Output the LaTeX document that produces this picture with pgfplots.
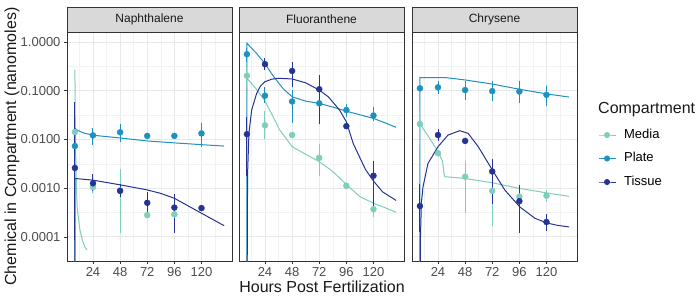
\documentclass[border=0pt]{standalone}
\usepackage{pgfplots}
\usepackage{pgfplotstable}
\pgfplotsset{compat=1.18}
\usepackage{fontspec}
\setmainfont{Liberation Sans}
\definecolor{cMedia}{HTML}{7FCDBB}
\definecolor{cPlate}{HTML}{1D91C0}
\definecolor{cTissue}{HTML}{253494}
\pgfplotsset{
 every axis/.append style={scale only axis, width=165pt, height=229pt, ymode=log, ymin=3.2e-5, ymax=1.6, xmin=1, xmax=147,
  xtick={24,48,72,96,120}, minor xtick={12,36,60,84,108,132},
  ytick={1e-4,0.001,0.01,0.1,1}, minor ytick={3.1623e-5,3.1623e-4,3.1623e-3,3.1623e-2,0.31623},
  grid=both, major grid style={draw=black!9, line width=0.8pt}, minor grid style={draw=black!5, line width=0.4pt},
  tick pos=left, tick align=outside, major tick length=3pt, minor tick length=0pt,
  tick style={draw=black!80, line width=0.6pt},
  axis line style={draw=black!80, line width=0.7pt},
  ticklabel style={font=\fontsize{13}{13}\selectfont, text=black!70},
  /pgf/number format/assume math mode=true,
 },
 mypts/.style={only marks, mark=*, mark size=3pt, color=#1,
   error bars/y dir=both, error bars/y explicit, error bars/error mark=-,
   error bars/error mark options={line width=1pt, mark size=3pt, color=#1},
   error bars/error bar style={line width=1pt, color=#1}},
 mycrv/.style={no marks, line width=1pt, color=#1},
}
\begin{document}
\begin{tikzpicture}
\useasboundingbox (-67pt,-39pt) rectangle (633pt,261pt);
% ---------------- Naphthalene
\begin{axis}[name=ax1, at={(0pt,0pt)}, anchor=south west,
  yticklabels={0.0001,0.0010,0.0100,0.1000,1.0000}]
\addplot[mycrv=cMedia] coordinates {(8,0.27) (8.3,0.03) (8.7,0.005) (9.2,0.0015) (10,0.0004) (12.4,0.00014) (15,0.00008) (16.9,0.000062) (18.7,0.000054)};
\addplot[mycrv=cPlate] coordinates {(8,1e-6) (8.05,0.017) (10,0.0155) (16,0.0135) (24,0.0122) (48,0.0107) (72,0.0093) (96,0.0085) (120,0.0078) (140,0.0073)};
\addplot[mycrv=cTissue] coordinates {(8,1e-6) (8.05,0.00158) (24,0.00146) (48,0.00117) (72,0.00092) (84,0.00078) (96,0.00062) (108,0.000435) (120,0.000306) (130,0.000228) (140,0.00017)};
\addplot[mypts=cMedia] table[x=x, y=y, y error plus expr=\thisrow{hi}-\thisrow{y}, y error minus expr=\thisrow{y}-\thisrow{lo}] {
x y lo hi
8 0.0142 0.0142 0.0142
24 0.00105 0.00091 0.0017
48 0.0009 0.00014 0.0021
72 0.00028 0.00028 0.00028
96 0.00029 0.00029 0.00029
};
\addplot[mypts=cPlate] table[x=x, y=y, y error plus expr=\thisrow{hi}-\thisrow{y}, y error minus expr=\thisrow{y}-\thisrow{lo}] {
x y lo hi
8 0.0073 0.0026 0.03
24 0.0121 0.0090 0.0151
48 0.0140 0.0101 0.0181
72 0.0118 0.0118 0.0118
96 0.0118 0.0118 0.0118
120 0.0133 0.0081 0.0187
};
\addplot[mypts=cTissue] table[x=x, y=y, y error plus expr=\thisrow{hi}-\thisrow{y}, y error minus expr=\thisrow{y}-\thisrow{lo}] {
x y lo hi
8 0.0026 0.0001 0.05
24 0.00126 0.00099 0.00167
48 0.00088 0.00075 0.00105
72 0.00050 0.00031 0.00072
96 0.00040 0.00014 0.00066
120 0.00039 0.00039 0.00039
};
\end{axis}
% ---------------- Fluoranthene
\begin{axis}[name=ax2, at={(172pt,0pt)}, anchor=south west, yticklabels={}, ytick style={draw=none}]
\addplot[mycrv=cMedia] coordinates {(8,0.18) (16,0.11) (24,0.062) (30,0.033) (37,0.0156) (42,0.011) (48,0.0071) (61,0.0048) (72,0.0035) (84,0.0022) (96,0.00119) (108,0.00067) (120,0.00049) (130,0.0004) (140,0.00032)};
\addplot[mycrv=cPlate] coordinates {(8,1e-6) (8.05,0.94) (16,0.6) (24,0.36) (30,0.22) (34,0.166) (40,0.11) (48,0.075) (60,0.061) (72,0.055) (84,0.046) (96,0.038) (108,0.032) (120,0.027) (130,0.022) (140,0.0177)};
\addplot[mycrv=cTissue] coordinates {(8,1e-6) (8.6,0.002) (9.8,0.0135) (12.2,0.04) (16.6,0.088) (20,0.125) (24,0.153) (30,0.172) (36,0.18) (48,0.174) (60,0.145) (72,0.103) (80,0.075) (90,0.040) (96,0.023) (102,0.0083) (108,0.0042) (113,0.0024) (120,0.0014) (128,0.00084) (140,0.00056)};
\addplot[mypts=cMedia] table[x=x, y=y, y error plus expr=\thisrow{hi}-\thisrow{y}, y error minus expr=\thisrow{y}-\thisrow{lo}] {
x y lo hi
8 0.203 0.14 0.26
24 0.0195 0.0115 0.033
48 0.0123 0.0123 0.0123
72 0.0042 0.0020 0.0069
96 0.00112 0.00112 0.00112
120 0.00037 0.00030 0.00049
};
\addplot[mypts=cPlate] table[x=x, y=y, y error plus expr=\thisrow{hi}-\thisrow{y}, y error minus expr=\thisrow{y}-\thisrow{lo}] {
x y lo hi
8 0.56 0.45 0.65
24 0.079 0.064 0.103
48 0.060 0.025 0.088
72 0.055 0.034 0.075
96 0.040 0.034 0.047
120 0.031 0.027 0.040
};
\addplot[mypts=cTissue] table[x=x, y=y, y error plus expr=\thisrow{hi}-\thisrow{y}, y error minus expr=\thisrow{y}-\thisrow{lo}] {
x y lo hi
8 0.0128 0.0020 0.025
24 0.35 0.30 0.40
48 0.254 0.134 0.33
72 0.107 0.0243 0.178
96 0.0187 0.0187 0.0187
120 0.0018 0.00048 0.0031
};
\end{axis}
% ---------------- Chrysene
\begin{axis}[name=ax3, at={(345pt,0pt)}, anchor=south west, yticklabels={}, ytick style={draw=none},
  legend style={at={(1,1)}, anchor=north west, xshift=21pt, yshift=-94.75pt, draw=none, fill=none,
    inner sep=0pt, outer sep=0pt, row sep=7pt, column sep=6pt,
    font=\fontsize{13}{13}\selectfont,
    nodes={inner sep=2pt, text height=9.5pt, text depth=3pt}},
  legend cell align=left]
\addlegendimage{color=cMedia, line width=1pt, mark=*, mark size=2.5pt}
\addlegendentry{Media}
\addlegendimage{color=cPlate, line width=1pt, mark=*, mark size=2.5pt}
\addlegendentry{Plate}
\addlegendimage{color=cTissue, line width=1pt, mark=*, mark size=2.5pt}
\addlegendentry{Tissue}
\addplot[mycrv=cMedia, forget plot] coordinates {(8,0.021) (16.5,0.0106) (24,0.0056) (28,0.0036) (29.3,0.0020) (30,0.00172) (48,0.00158) (72,0.00129) (96,0.00099) (120,0.00080) (140,0.00068)};
\addplot[mycrv=cPlate, forget plot] coordinates {(8,1e-6) (8.05,0.185) (31,0.185) (48,0.166) (72,0.137) (96,0.107) (120,0.086) (140,0.074)};
\addplot[mycrv=cTissue, forget plot] coordinates {(8,1e-6) (8.5,0.0001) (9.3,0.0005) (10.7,0.00105) (15.1,0.0032) (24,0.0071) (32.9,0.0123) (43.2,0.0151) (50.7,0.0133) (59.6,0.0071) (72.9,0.0022) (83.2,0.00091) (96.5,0.00041) (109.9,0.00024) (120.3,0.000193) (130,0.000172) (140,0.00016)};
\addplot[mypts=cMedia, forget plot] table[x=x, y=y, y error plus expr=\thisrow{hi}-\thisrow{y}, y error minus expr=\thisrow{y}-\thisrow{lo}] {
x y lo hi
8 0.0207 0.0087 0.033
24 0.0052 0.0052 0.0052
48 0.00172 0.00035 0.0032
72 0.00088 0.00019 0.0022
96 0.00067 0.00067 0.00067
120 0.00070 0.00060 0.00080
};
\addplot[mypts=cPlate, forget plot] table[x=x, y=y, y error plus expr=\thisrow{hi}-\thisrow{y}, y error minus expr=\thisrow{y}-\thisrow{lo}] {
x y lo hi
8 0.112 0.112 0.112
24 0.117 0.10 0.135
48 0.103 0.074 0.14
72 0.098 0.072 0.135
96 0.096 0.065 0.14
120 0.082 0.055 0.11
};
\addplot[mypts=cTissue, forget plot] table[x=x, y=y, y error plus expr=\thisrow{hi}-\thisrow{y}, y error minus expr=\thisrow{y}-\thisrow{lo}] {
x y lo hi
8 0.00043 0.000147 0.00105
24 0.0123 0.0105 0.0145
48 0.0093 0.0093 0.0093
72 0.0022 0.00054 0.0035
96 0.00054 0.00014 0.0010
120 0.000202 0.00015 0.00025
};
\end{axis}
% strips
\foreach \ax/\ttl in {ax1/Naphthalene, ax2/Fluoranthene, ax3/Chrysene}{
  \draw[fill=black!15, draw=black!80, line width=0.7pt] (\ax.north west) rectangle ([yshift=25pt]\ax.north east);
  \node[font=\fontsize{12}{12}\selectfont, text=black!90] at ([yshift=12.5pt]\ax.north) {\ttl};
}
\node[rotate=90, font=\fontsize{16}{16}\selectfont, text=black!90] at (-55pt,114.5pt) {Chemical in Compartment (nanomoles)};
\node[font=\fontsize{16}{16}\selectfont, text=black!90] at (255pt,-26pt) {Hours Post Fertilization};
\node[anchor=base west, inner sep=0pt, font=\fontsize{16}{16}\selectfont, text=black!90] at (531pt,147.5pt) {Compartment};
\end{tikzpicture}
\end{document}
